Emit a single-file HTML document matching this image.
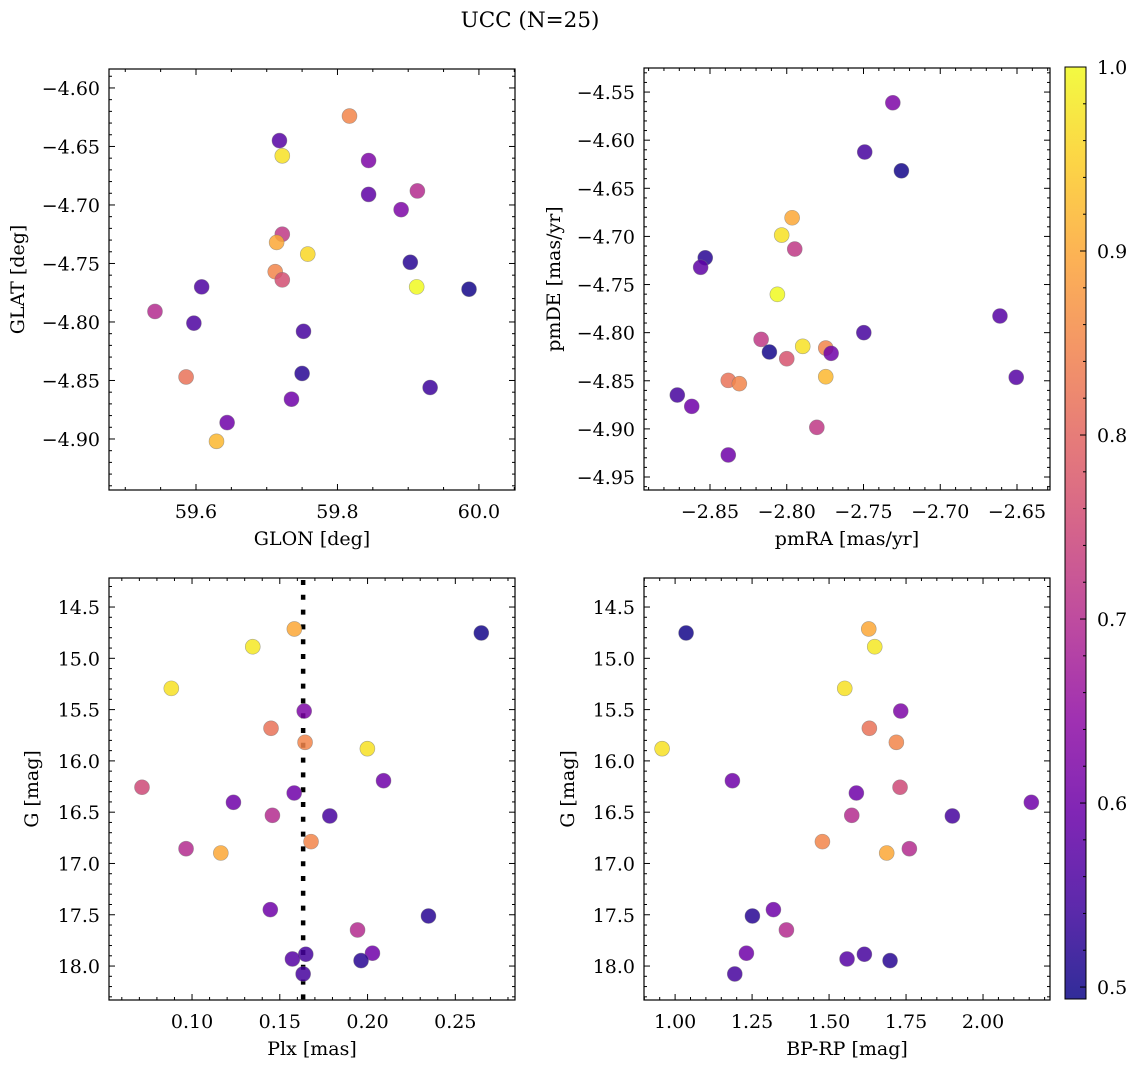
<!DOCTYPE html>
<html><head><meta charset="utf-8"><style>
html,body{margin:0;padding:0;background:#fff}
svg, svg text{font-family:"DejaVu Serif","Liberation Serif",serif}
</style></head><body>
<svg id="fig" width="1136" height="1067" xmlns="http://www.w3.org/2000/svg">
<text x="530" y="27" text-anchor="middle" font-size="21.5" font-family="DejaVu Serif, Liberation Serif, serif">UCC (N=25)</text>
</svg>
<script>
// Panel 1: GLON/GLAT
const glon=[59.817,59.718,59.722,59.844,59.844,59.913,59.890,59.722,59.714,59.758,59.903,59.712,59.722,59.912,59.608,59.986,59.542,59.597,59.752,59.586,59.750,59.931,59.735,59.644,59.629];
const glat=[-4.624,-4.645,-4.658,-4.662,-4.691,-4.688,-4.704,-4.725,-4.732,-4.742,-4.749,-4.757,-4.764,-4.770,-4.770,-4.772,-4.791,-4.801,-4.808,-4.847,-4.844,-4.856,-4.866,-4.886,-4.902];
const cTop1=[0.85,0.57,0.97,0.62,0.58,0.70,0.62,0.72,0.90,0.96,0.52,0.85,0.76,1.0,0.56,0.50,0.70,0.56,0.55,0.82,0.52,0.54,0.60,0.60,0.92];
// Panel 2: pmRA/pmDE
const pmra=[-2.7309,-2.7492,-2.7253,-2.7965,-2.8033,-2.7948,-2.8531,-2.8561,-2.8061,-2.6611,-2.7498,-2.8167,-2.7896,-2.7746,-2.7711,-2.8113,-2.8000,-2.7746,-2.8381,-2.8309,-2.6505,-2.8713,-2.8619,-2.7804,-2.8381];
const pmde=[-4.5611,-4.6123,-4.6318,-4.6806,-4.6986,-4.7131,-4.7222,-4.7321,-4.7602,-4.7827,-4.8000,-4.8070,-4.8142,-4.8160,-4.8215,-4.8201,-4.8271,-4.8458,-4.8496,-4.8530,-4.8464,-4.8648,-4.8766,-4.8984,-4.9271];
const cTop2=[0.62,0.55,0.50,0.90,0.97,0.72,0.52,0.58,1.0,0.57,0.55,0.72,0.97,0.85,0.60,0.50,0.77,0.92,0.82,0.85,0.57,0.55,0.60,0.72,0.60];
// Panels 3-4: Plx, BP-RP vs G
const gmag=[14.714,14.887,14.753,15.293,15.514,15.682,15.819,15.881,16.193,16.257,16.313,16.404,16.531,16.537,16.787,16.856,16.898,17.450,17.512,17.648,17.885,17.875,17.931,17.947,18.077];
const plx=[0.1583,0.1346,0.2648,0.0882,0.1639,0.1450,0.1644,0.1999,0.2091,0.0715,0.1582,0.1236,0.1458,0.1785,0.1678,0.0966,0.1164,0.1446,0.2347,0.1943,0.1648,0.2028,0.1572,0.1963,0.1633];
const bprp=[1.6289,1.6483,1.0357,1.5509,1.7328,1.6309,1.7185,0.9578,1.1861,1.7305,1.5887,2.1569,1.5737,1.9004,1.4784,1.7608,1.6872,1.3193,1.2511,1.3615,1.6147,1.2316,1.5584,1.6981,1.1938];
const cBot=[0.90,0.98,0.50,0.97,0.62,0.82,0.85,0.97,0.60,0.75,0.60,0.60,0.70,0.55,0.85,0.70,0.90,0.60,0.52,0.70,0.55,0.60,0.57,0.52,0.55];
const plxMedian=[0.1633];
const cbTicks=[0.5,0.6,0.7,0.8,0.9,1.0];

const NS="http://www.w3.org/2000/svg";
const svg=document.getElementById('fig');
const FS=19;
const FF="DejaVu Serif, Liberation Serif, serif";
function mk(tag,attrs,parent){const e=document.createElementNS(NS,tag);for(const k in attrs)e.setAttribute(k,attrs[k]);if(tag==='text')e.setAttribute('font-family',FF);(parent||svg).appendChild(e);return e;}
const stops=[[0,13,8,135],[0.1,65,4,157],[0.2,106,0,168],[0.3,143,13,164],[0.4,177,42,144],[0.5,204,71,120],[0.6,225,100,98],[0.7,242,132,75],[0.8,252,166,54],[0.9,252,206,37],[1,240,249,33]];
function plasma(t){t=Math.max(0,Math.min(1,t));for(let i=1;i<stops.length;i++){if(t<=stops[i][0]){const a=stops[i-1],b=stops[i],f=(t-a[0])/(b[0]-a[0]);return `rgb(${Math.round(a[1]+f*(b[1]-a[1]))},${Math.round(a[2]+f*(b[2]-a[2]))},${Math.round(a[3]+f*(b[3]-a[3]))})`;}}return 'rgb(240,249,33)';}
const VMIN=0.4935,VMAX=1.0;
function cmap(v){return plasma((v-VMIN)/(VMAX-VMIN));}
function fmt(v,d){const s=Math.abs(v).toFixed(d);return (v<0?'\u2212':'')+s;}

function panel(o){
  const g=mk('g',{});
  
  
  const sx=v=>o.L+(v-o.x0)/(o.x1-o.x0)*(o.R-o.L);
  const sy=v=>o.T+(v-o.y0)/(o.y1-o.y0)*(o.B-o.T);
  if(o.vline){const l=mk('line',{x1:sx(o.vline[0]),x2:sx(o.vline[0]),y1:o.T,y2:o.B,stroke:'#000','stroke-width':4.5,'stroke-dasharray':'5,9.8','stroke-dashoffset':'-2'},g);
    }
  for(let i=0;i<o.xs.length;i++){
    const c=mk('circle',{cx:sx(o.xs[i]),cy:sy(o.ys[i]),r:7.5,fill:cmap(o.cs[i]),'fill-opacity':0.85,stroke:'#777','stroke-opacity':0.6,'stroke-width':0.6},g);
    
    
  }
  mk('rect',{x:o.L,y:o.T,width:o.R-o.L,height:o.B-o.T,fill:'none',stroke:'#000','stroke-width':1.2},g);
  const eps=1e-9;
  for(let v=Math.ceil(o.x0/o.xmin-eps)*o.xmin;v<=o.x1+eps;v+=o.xmin){
    const isMaj=Math.abs(v/o.xmaj-Math.round(v/o.xmaj))<1e-6;const x=sx(v),len=isMaj?6:3;
    mk('line',{x1:x,x2:x,y1:o.B,y2:o.B-len,stroke:'#000','stroke-width':1},g);
    mk('line',{x1:x,x2:x,y1:o.T,y2:o.T+len,stroke:'#000','stroke-width':1},g);
    if(isMaj){const t=mk('text',{x:x,y:o.B+28,'text-anchor':'middle','font-size':FS},g);t.textContent=fmt(Math.round(v/o.xmaj)*o.xmaj,o.xd);
      }
  }
  for(let v=Math.ceil(Math.min(o.y0,o.y1)/o.ymin-eps)*o.ymin;v<=Math.max(o.y0,o.y1)+eps;v+=o.ymin){
    const isMaj=Math.abs(v/o.ymaj-Math.round(v/o.ymaj))<1e-6;const y=sy(v),len=isMaj?6:3;
    mk('line',{x1:o.L,x2:o.L+len,y1:y,y2:y,stroke:'#000','stroke-width':1},g);
    mk('line',{x1:o.R,x2:o.R-len,y1:y,y2:y,stroke:'#000','stroke-width':1},g);
    if(isMaj){const t=mk('text',{x:o.L-9,y:y+7,'text-anchor':'end','font-size':FS},g);t.textContent=fmt(Math.round(v/o.ymaj)*o.ymaj,o.yd);
      }
  }
  const xl=mk('text',{x:(o.L+o.R)/2,y:o.B+55,'text-anchor':'middle','font-size':FS},g);xl.textContent=o.xlabel;
  
  const yl=mk('text',{x:o.ylx,y:(o.T+o.B)/2,'text-anchor':'middle','font-size':FS,transform:`rotate(-90 ${o.ylx} ${(o.T+o.B)/2})`},g);yl.textContent=o.ylabel;
  
}
panel({name:'glon-glat-panel',L:109,R:515,T:69,B:490,x0:59.477,x1:60.051,y0:-4.5838,y1:-4.9436,xmaj:0.2,xmin:0.05,ymaj:0.05,ymin:0.01,xd:1,yd:2,xs:glon,ys:glat,cs:cTop1,xlabel:'GLON [deg]',ylabel:'GLAT [deg]',ylx:24});
panel({name:'pm-panel',L:644,R:1050,T:68,B:490,x0:-2.893,x1:-2.6285,y0:-4.525,y1:-4.9635,xmaj:0.05,xmin:0.01,ymaj:0.05,ymin:0.01,xd:2,yd:2,xs:pmra,ys:pmde,cs:cTop2,xlabel:'pmRA [mas/yr]',ylabel:'pmDE [mas/yr]',ylx:560});
panel({name:'plx-g-panel',L:109,R:515,T:578,B:1000,x0:0.0527,x1:0.284,y0:14.217,y1:18.331,xmaj:0.05,xmin:0.01,ymaj:0.5,ymin:0.1,xd:2,yd:1,xs:plx,ys:gmag,cs:cBot,xlabel:'Plx [mas]',ylabel:'G [mag]',ylx:38,vline:plxMedian});
panel({name:'cmd-panel',L:644,R:1050,T:578,B:1000,x0:0.899,x1:2.2175,y0:14.217,y1:18.331,xmaj:0.25,xmin:0.05,ymaj:0.5,ymin:0.1,xd:2,yd:1,xs:bprp,ys:gmag,cs:cBot,xlabel:'BP-RP [mag]',ylabel:'G [mag]',ylx:574});

const cb=mk('g',{});


const CT=67,CB=999,CL=1065,CR=1086;
const defs=mk('defs',{});
const lg=mk('linearGradient',{id:'cbg',x1:0,y1:1,x2:0,y2:0},defs);
for(let i=0;i<=20;i++){const t=i/20;mk('stop',{offset:t,'stop-color':plasma(t)},lg);}
mk('rect',{x:CL,y:CT,width:CR-CL,height:CB-CT,fill:'url(#cbg)','fill-opacity':0.85},cb);
mk('rect',{x:CL,y:CT,width:CR-CL,height:CB-CT,fill:'none',stroke:'#000','stroke-width':1},cb);
const cy=v=>CB-(v-VMIN)/(VMAX-VMIN)*(CB-CT);
for(let k=25;k<=50;k++){const v=k*0.02;const maj=k%5===0;const y=cy(v);
  mk('line',{x1:CR,x2:CR-(maj?6:3),y1:y,y2:y,stroke:'#000','stroke-width':1},cb);}
cbTicks.forEach(v=>{const t=mk('text',{x:CR+11,y:cy(v)+7,'font-size':FS},cb);t.textContent=v.toFixed(1);
  });
</script>
</body></html>
